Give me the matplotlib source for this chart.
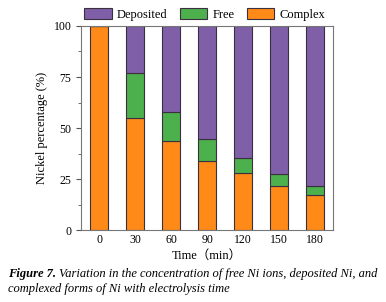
import matplotlib.pyplot as plt
from matplotlib.ticker import MultipleLocator

# data
times = ["0", "30", "60", "90", "120", "150", "180"]
complex_pct = [100, 55, 43.6, 34, 27.8, 21.4, 17.3]
free_pct = [0, 22, 14.1, 10.4, 7.3, 6.1, 4.3]
deposited_pct = [0, 23, 42.3, 55.6, 64.9, 72.5, 78.4]

c_dep = "#7f5fa8"
c_free = "#4cb04c"
c_cplx = "#ff8a18"

plt.rcParams['font.family'] = ['Liberation Serif', 'Noto Sans CJK SC']

fig = plt.figure(figsize=(3.86, 3.02), dpi=100)
ax = fig.add_axes([0.21, 0.238, 0.653, 0.676])

x = range(len(times))
ec = "#3a3040"
b1 = ax.bar(x, complex_pct, width=0.5, color=c_cplx, edgecolor=ec, linewidth=0.8, label="Complex")
b2 = ax.bar(x, free_pct, width=0.5, bottom=complex_pct, color=c_free, edgecolor=ec, linewidth=0.8, label="Free")
bottoms = [a + b for a, b in zip(complex_pct, free_pct)]
b3 = ax.bar(x, deposited_pct, width=0.5, bottom=bottoms, color=c_dep, edgecolor=ec, linewidth=0.8, label="Deposited")

ax.set_xlim(-0.5, 6.5)
ax.set_ylim(0, 100)
ax.set_xticks(list(x))
ax.set_xticklabels(times)
ax.set_yticks([0, 25, 50, 75, 100])
ax.yaxis.set_minor_locator(MultipleLocator(12.5))
ax.tick_params(axis='x', length=0, labelsize=8.5, pad=3)
ax.tick_params(axis='y', which='major', length=3.5, labelsize=8.5, color="#555555")
ax.tick_params(axis='y', which='minor', length=2, color="#555555")
for s in ax.spines.values():
    s.set_color("#777777")
    s.set_linewidth(0.8)

ax.set_ylabel("Nickel percentage (%)", fontsize=9)
ax.set_xlabel("Time（min）", fontsize=9, labelpad=2.5)

fig.legend([b3, b2, b1], ["Deposited", "Free", "Complex"], loc="center",
           bbox_to_anchor=(0.53, 0.952), ncol=3, frameon=False, fontsize=9,
           handlelength=2.2, handleheight=0.9, columnspacing=1.0, handletextpad=0.4)

# caption
t1 = fig.text(0.021, 0.082, "Figure 7.", fontsize=9, style="italic", weight="bold", va="baseline")
fig.canvas.draw()
bb = t1.get_window_extent().transformed(fig.transFigure.inverted())
fig.text(bb.x1 + 0.008, 0.082, "Variation in the concentration of free Ni ions, deposited Ni, and",
         fontsize=9, style="italic", va="baseline")
fig.text(0.021, 0.033, "complexed forms of Ni with electrolysis time", fontsize=9, style="italic", va="baseline")

fig.savefig("out.png", dpi=100)
